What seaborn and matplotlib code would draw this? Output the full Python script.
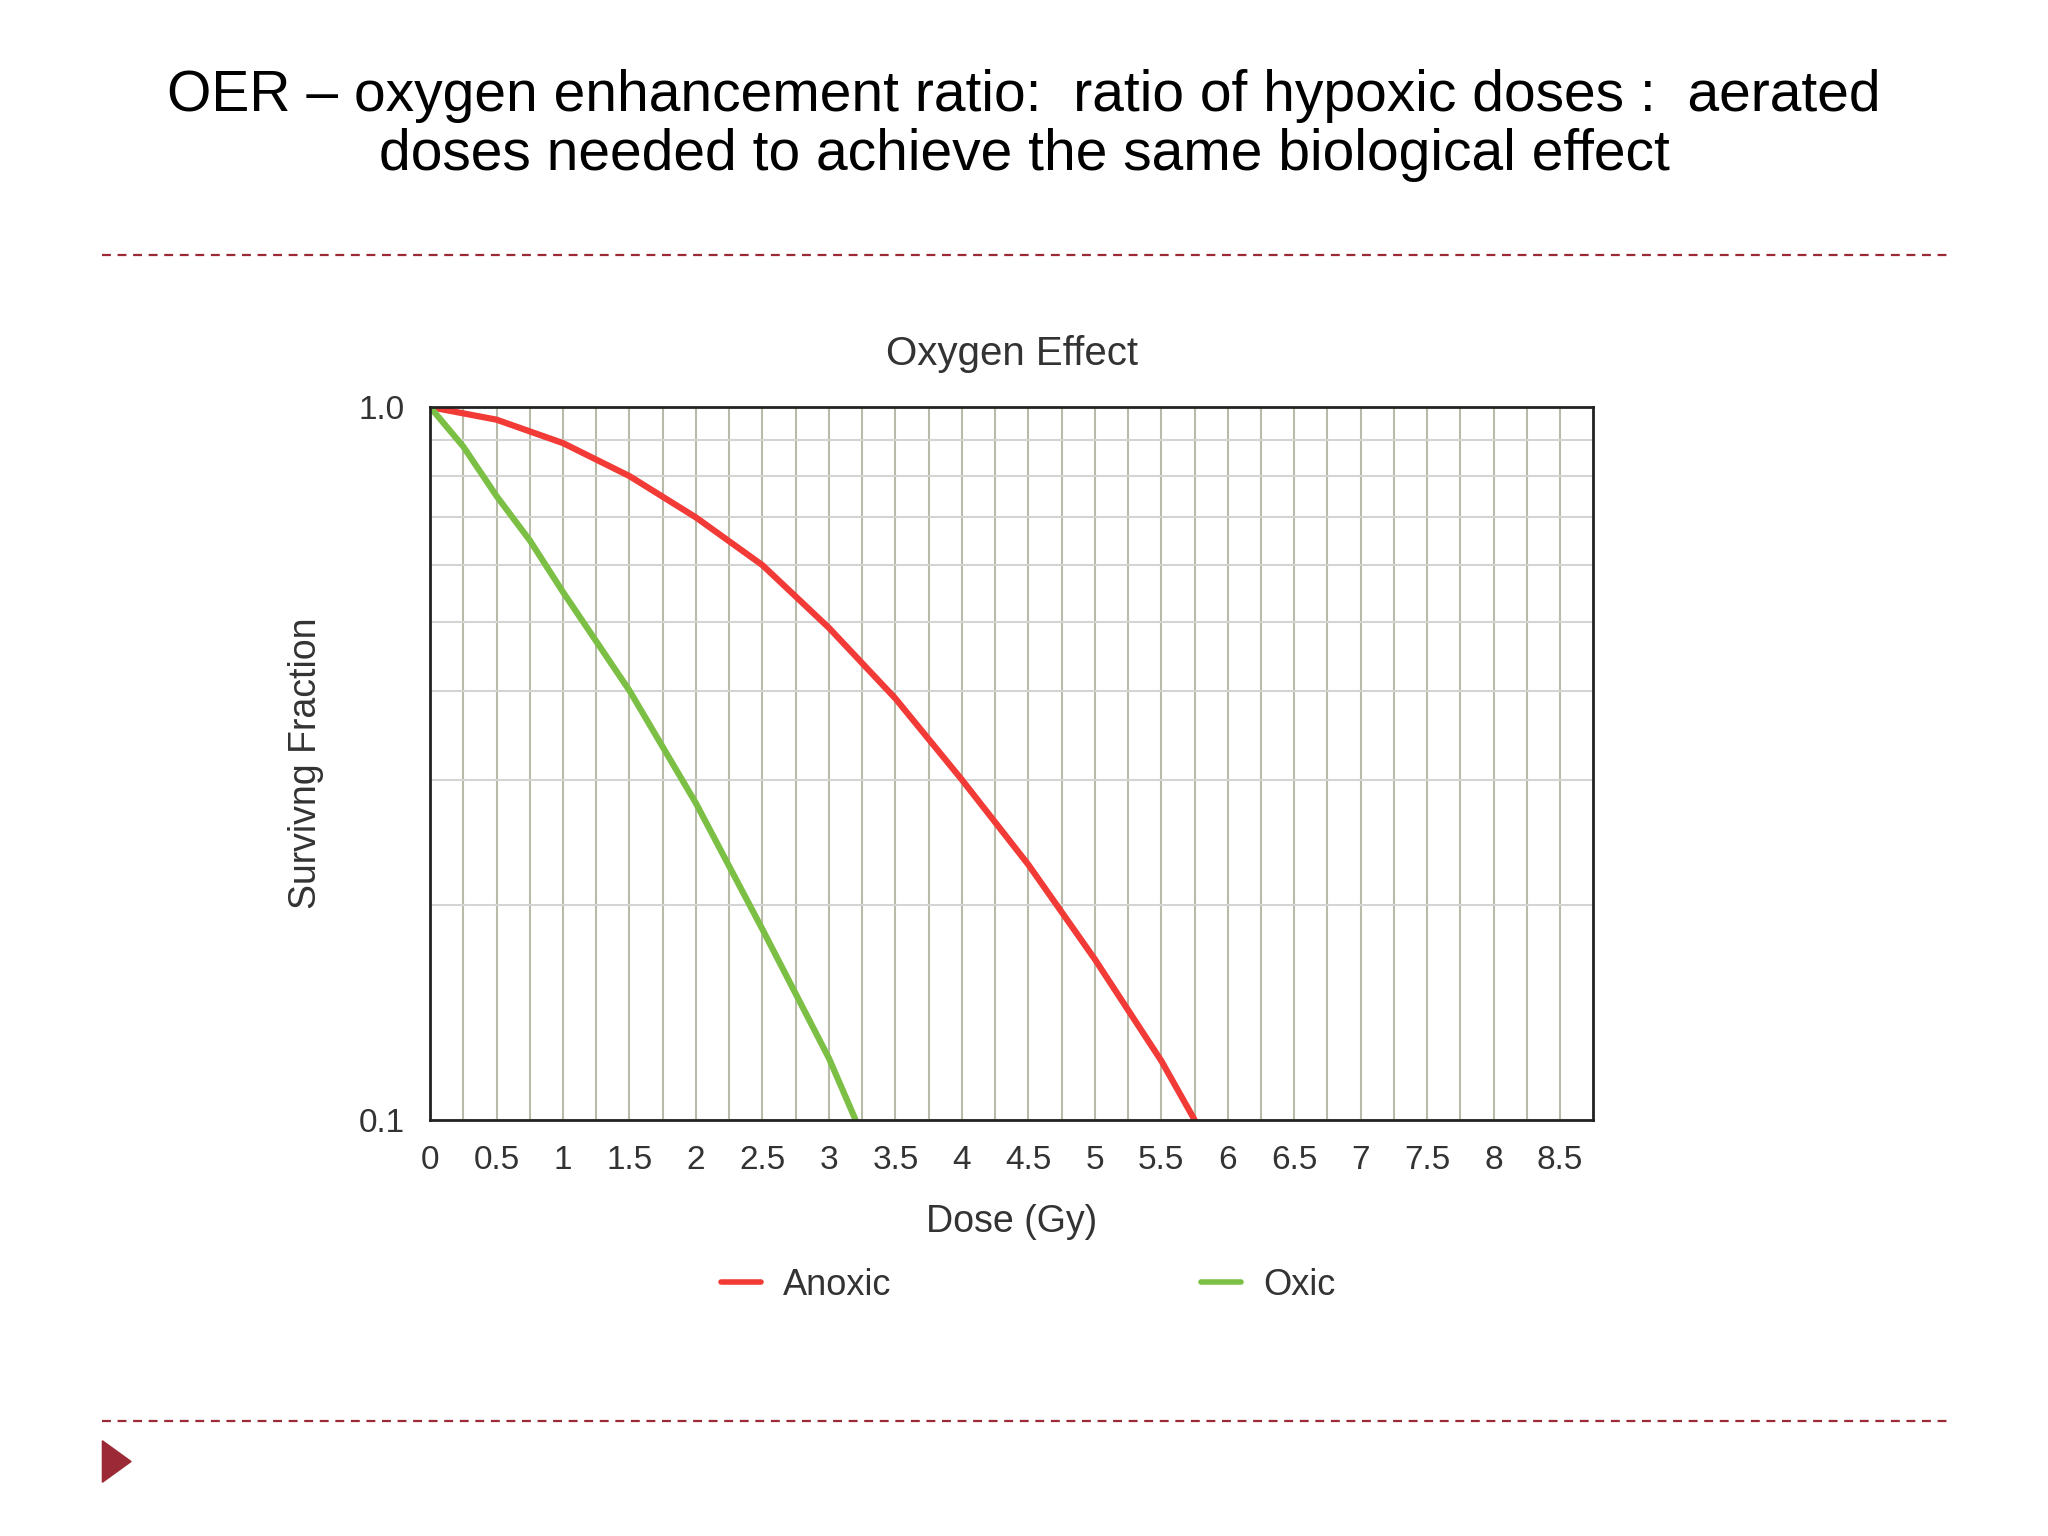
import matplotlib
matplotlib.use("Agg")
import matplotlib.pyplot as plt
import seaborn as sns
import pandas as pd
from matplotlib.lines import Line2D
from matplotlib.patches import Polygon

anoxic_dose = [0, 0.5, 1, 1.5, 2, 2.5, 3, 3.5, 4, 4.5, 5, 5.5, 5.75]
anoxic_sf = [1.0, 0.96, 0.89, 0.80, 0.70, 0.60, 0.49, 0.39, 0.30, 0.228, 0.168, 0.121, 0.1]
oxic_dose = [0, 0.25, 0.5, 0.75, 1, 1.5, 2, 2.5, 3, 3.2]
oxic_sf = [1.0, 0.88, 0.75, 0.65, 0.55, 0.40, 0.278, 0.185, 0.122, 0.1]

df = pd.concat([
    pd.DataFrame({"Dose": anoxic_dose, "SF": anoxic_sf, "Condition": "Anoxic"}),
    pd.DataFrame({"Dose": oxic_dose, "SF": oxic_sf, "Condition": "Oxic"}),
])

sns.set_theme(style="white")
plt.rcParams['font.family'] = ['Liberation Sans', 'DejaVu Sans']
fig = plt.figure(figsize=(20.48, 15.36), dpi=100)
ax = fig.add_axes([0.21, 0.271, 0.568, 0.464])
sns.lineplot(data=df, x="Dose", y="SF", hue="Condition", palette={"Anoxic": "#f23a36", "Oxic": "#7cbf45"},
             linewidth=4.5, ax=ax, legend=False, sort=False)
ax.set_yscale("log")
ax.set_ylim(0.1, 1.0)
ax.set_xlim(0, 8.75)
ax.set_xticks([i * 0.5 for i in range(18)])
ax.set_xticklabels(["0" if i == 0 else (f"{i*0.5:g}") for i in range(18)])
ax.set_xticks([0.25 + i * 0.5 for i in range(17)], minor=True)
ax.set_yticks([0.1, 1.0])
ax.set_yticklabels(["0.1", "1.0"])
ax.set_yticks([0.2, 0.3, 0.4, 0.5, 0.6, 0.7, 0.8, 0.9], minor=True)
ax.set_yticklabels([], minor=True)
ax.grid(True, which="both", axis="x", color="#b8bba8", linewidth=1.5)
ax.grid(True, which="both", axis="y", color="#d4d4d4", linewidth=1.5)
ax.set_axisbelow(True)
for s in ax.spines.values():
    s.set_color("#222222"); s.set_linewidth(2)
ax.tick_params(axis="both", which="both", length=0, labelsize=24, colors="#333333", pad=18)
ax.set_xlabel("Dose (Gy)", fontsize=27, color="#333333", labelpad=20)
ax.set_ylabel("Survivng Fraction", fontsize=27, color="#333333", labelpad=25)
ax.set_title("Oxygen Effect", fontsize=29, color="#333333", pad=30)

handles = [Line2D([], [], color="#f23a36", lw=4), Line2D([], [], color="#7cbf45", lw=4)]
fig.legend(handles, ["Anoxic", "Oxic"], loc="center", bbox_to_anchor=(0.502, 0.163), ncol=2,
           frameon=False, fontsize=26, columnspacing=8.6, handlelength=1.1, handletextpad=0.6,
           labelcolor="#333333")

fig.text(0.5, 0.918, "OER – oxygen enhancement ratio:  ratio of hypoxic doses :  aerated\ndoses needed to achieve the same biological effect",
         ha="center", va="center", fontsize=41, color="black", linespacing=1.12)
for yy in [0.834, 0.075]:
    fig.add_artist(Line2D([0.05, 0.952], [yy, yy], color="#9b2a36", lw=1.6, linestyle=(0, (4, 3))))
fig.add_artist(Polygon([[0.05, 0.062], [0.05, 0.035], [0.064, 0.0485]], closed=True, color="#9b2a36"))

fig.savefig("out.png", dpi=100)
